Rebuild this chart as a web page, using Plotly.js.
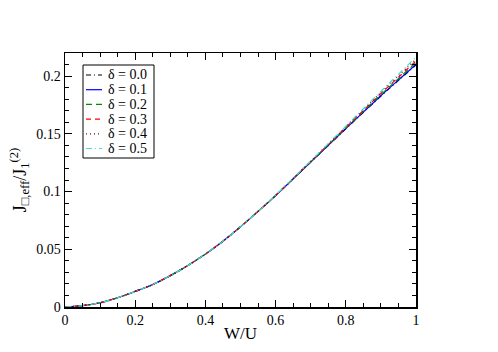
<!DOCTYPE html>
<html>
<head>
<meta charset="utf-8">
<script src="https://cdn.plot.ly/plotly-3.0.1.min.js"></script>
<style>html,body{margin:0;padding:0;background:#fff;}#chart{width:498px;height:352px;}</style>
</head>
<body>
<div id="chart"></div>
<script>
const W = [0, 0.05, 0.1, 0.15, 0.2, 0.25, 0.3, 0.35, 0.4, 0.45, 0.5, 0.55, 0.6, 0.65, 0.7, 0.75, 0.8, 0.85, 0.9, 0.95, 1.0];
const J_d00 = [0, 0.0012, 0.0037, 0.008, 0.0135, 0.0195, 0.0272, 0.036, 0.0458, 0.057, 0.0695, 0.0828, 0.0965, 0.111, 0.1255, 0.1399, 0.1544, 0.1686, 0.1827, 0.1963, 0.2096];
const J_d01 = [0, 0.0012, 0.0037, 0.008, 0.0135, 0.0195, 0.0272, 0.036, 0.0458, 0.057, 0.0695, 0.0828, 0.0965, 0.111, 0.1255, 0.14, 0.1545, 0.1688, 0.183, 0.1966, 0.21];
const J_d02 = [0, 0.0012, 0.0037, 0.008, 0.0135, 0.0195, 0.0272, 0.036, 0.0458, 0.057, 0.0695, 0.0828, 0.0966, 0.1111, 0.1257, 0.1404, 0.155, 0.1695, 0.1839, 0.1978, 0.2116];
const J_d03 = [0, 0.0012, 0.0037, 0.008, 0.0135, 0.0195, 0.0272, 0.036, 0.0458, 0.057, 0.0695, 0.0828, 0.0966, 0.1113, 0.126, 0.1407, 0.1555, 0.1702, 0.1849, 0.199, 0.2131];
const J_d04 = [0, 0.0012, 0.0037, 0.008, 0.0135, 0.0195, 0.0272, 0.036, 0.0458, 0.057, 0.0695, 0.0828, 0.0967, 0.1114, 0.1262, 0.1411, 0.156, 0.1709, 0.1858, 0.2002, 0.2147];
const J_d05 = [0, 0.0012, 0.0037, 0.008, 0.0135, 0.0195, 0.0272, 0.036, 0.0458, 0.057, 0.0695, 0.0828, 0.0968, 0.1116, 0.1265, 0.1415, 0.1566, 0.1717, 0.1868, 0.2015, 0.2165];
const labels = ['δ = 0.0', 'δ = 0.1', 'δ = 0.2', 'δ = 0.3', 'δ = 0.4', 'δ = 0.5'];
const xTickVals = [0, 0.2, 0.4, 0.6, 0.8, 1];
const xTickText = ['0', '0.2', '0.4', '0.6', '0.8', '1'];
const yTickVals = [0, 0.05, 0.1, 0.15, 0.2];
const yTickText = ['0', '0.05', '0.1', '0.15', '0.2'];

const series = [J_d00, J_d01, J_d02, J_d03, J_d04, J_d05];
const colors = ['#000000', '#0000ff', '#008b00', '#ff0000', '#670748', '#40e0d0'];
const dashes = ['5px,3px,1px,3px', 'solid', '6px,4px', '5px,4px', '1px,3px', '6px,3px,1px,3px'];

const traces = series.map((ys, i) => ({
  x: W, y: ys, type: 'scatter', mode: 'lines', name: labels[i], showlegend: false,
  line: {color: colors[i], width: 1.2, dash: dashes[i], shape: 'spline'}
}));

const FAM = '"Liberation Serif", "Times New Roman", serif';
const font = (s) => ({family: FAM, size: s, color: '#000'});

// custom legend box (plot area: left 65, top 53, width 351, height 254 px)
const M = {l: 65, r: 82, t: 53, b: 45};
const PW = 498 - M.l - M.r, PH = 352 - M.t - M.b;
const px = (x) => (x - M.l) / PW;
const py = (y) => (M.t + PH - y) / PH;
const shapes = [{type: 'rect', xref: 'paper', yref: 'paper', x0: px(83), x1: px(154), y0: py(158), y1: py(65),
  line: {color: '#000', width: 1}, fillcolor: '#fff', layer: 'above'}];
const annotations = [];
labels.forEach((lab, i) => {
  const yc = 75 + i * 14.7;
  shapes.push({type: 'line', xref: 'paper', yref: 'paper', x0: px(86), x1: px(102), y0: py(yc), y1: py(yc),
    line: {color: colors[i], width: 1.2, dash: dashes[i]}, layer: 'above'});
  annotations.push({xref: 'paper', yref: 'paper', x: px(107), y: py(yc), xanchor: 'left', yanchor: 'middle',
    text: lab, showarrow: false, font: font(14), borderpad: 0});
});

const layout = {
  width: 498, height: 352,
  margin: M,
  paper_bgcolor: '#fff', plot_bgcolor: '#fff',
  font: font(14),
  showlegend: false,
  shapes: shapes,
  annotations: annotations,
  xaxis: {
    range: [0, 1], tickvals: xTickVals, ticktext: xTickText,
    ticks: 'inside', ticklen: 7, tickwidth: 1, tickcolor: '#000',
    minor: {dtick: 0.05, ticks: 'inside', ticklen: 4, tickcolor: '#000', showgrid: false},
    showline: true, linecolor: '#000', linewidth: 1.5, mirror: 'allticks',
    showgrid: false, zeroline: false,
    tickfont: font(14),
    title: {text: 'W/U', font: font(17), standoff: 0}
  },
  yaxis: {
    range: [0, 0.22], tickvals: yTickVals, ticktext: yTickText,
    ticks: 'inside', ticklen: 7, tickwidth: 1, tickcolor: '#000',
    minor: {dtick: 0.01, ticks: 'inside', ticklen: 4, tickcolor: '#000', showgrid: false},
    showline: true, linecolor: '#000', linewidth: 1.5, mirror: 'allticks',
    showgrid: false, zeroline: false,
    tickfont: font(14),
    title: {text: 'J<sub>□,eff</sub>/J<sub>1</sub><sup>(2)</sup>', font: font(18), standoff: 5}
  }
};
Plotly.newPlot('chart', traces, layout, {displayModeBar: false, staticPlot: true});
</script>
</body>
</html>
